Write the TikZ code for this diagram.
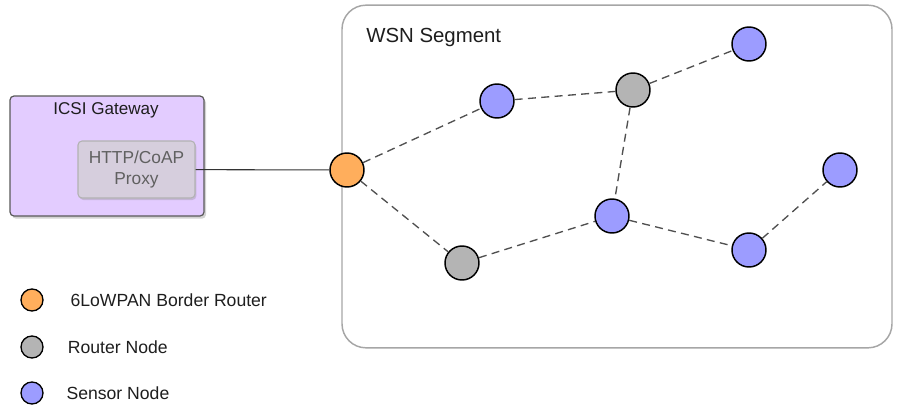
\documentclass[tikz,border=0pt]{standalone}
\usepackage{fontspec}
\setmainfont{Liberation Sans}
\usepackage{tikz}
\usetikzlibrary{positioning,shadows}
\definecolor{borderorange}{HTML}{FFAE5C}
\definecolor{routergray}{HTML}{B4B4B4}
\definecolor{sensorblue}{HTML}{9C9CFF}
\definecolor{gatewayfill}{HTML}{E3CCFF}
\definecolor{proxyfill}{HTML}{D6CEDD}
\definecolor{linkgray}{HTML}{505050}
\definecolor{darktext}{HTML}{1E1E1E}

\begin{document}
\begin{tikzpicture}[
    x=0.75pt, y=-0.75pt,
    mote/.style={
        circle,
        draw=black,
        line width=1.1pt,
        minimum size=25.5pt,
        inner sep=0pt
    },
    bordermote/.style={mote, fill=borderorange},
    routermote/.style={mote, fill=routergray},
    sensormote/.style={mote, fill=sensorblue},
    legendmote/.style={mote, minimum size=16.5pt, line width=1pt},
    legendtext/.style={inner sep=0pt, text=darktext, font=\fontsize{13.2}{16}\selectfont},
    radiolink/.style={draw=linkgray, line width=1pt, dash pattern=on 6pt off 4pt}
]
    \useasboundingbox (0,0) rectangle (900,418);

    % WSN segment frame
    \node[draw=gray!70, line width=1.1pt, rounded corners=18pt,
          minimum width=412.5pt, minimum height=257pt] (wsn) at (617,176.5) {};
    \node[anchor=west, inner sep=0pt, text=darktext,
          font=\fontsize{15.3}{18}\selectfont] (wsnlabel) at (366,37) {WSN Segment};

    % gateway
    \node[draw=gray!70!black, line width=0.9pt, fill=gatewayfill, rounded corners=3pt,
          minimum width=145.5pt, minimum height=90pt,
          drop shadow={shadow xshift=1.5pt, shadow yshift=-2pt, opacity=0.35}] (gateway) at (107,156) {};
    \node[inner sep=0pt, text=darktext, font=\fontsize{12.8}{15}\selectfont] (gwlabel) at (106,110) {ICSI Gateway};
    \node[draw=gray!60, line width=0.8pt, fill=proxyfill, rounded corners=3pt,
          minimum width=87.75pt, minimum height=42.75pt, align=center,
          text=gray!75!black, font=\fontsize{13}{15.5}\selectfont,
          drop shadow={shadow xshift=1pt, shadow yshift=-1.5pt, opacity=0.3}] (proxy) at (136.5,169.5) {HTTP/CoAP\\Proxy};

    % motes
    \node[bordermote] (br) at (347,170) {};
    \node[sensormote] (s1) at (497,101) {};
    \node[routermote] (r1) at (633,90) {};
    \node[sensormote] (s2) at (749,44) {};
    \node[sensormote] (s3) at (612,216) {};
    \node[routermote] (r2) at (462,263) {};
    \node[sensormote] (s4) at (749,250) {};
    \node[sensormote] (s5) at (840,170) {};

    % links
    \draw[black!80, line width=0.8pt] (proxy) -- (br);
    \draw[radiolink] (br) -- (s1);
    \draw[radiolink] (s1) -- (r1);
    \draw[radiolink] (r1) -- (s2);
    \draw[radiolink] (r1) -- (s3);
    \draw[radiolink] (br) -- (r2);
    \draw[radiolink] (r2) -- (s3);
    \draw[radiolink] (s3) -- (s4);
    \draw[radiolink] (s4) -- (s5);

    % legend
    \node[legendmote, fill=borderorange] (lborder) at (32,300) {};
    \node[legendmote, fill=routergray] (lrouter) at (32,347) {};
    \node[legendmote, fill=sensorblue] (lsensor) at (32,393) {};
    \node[legendtext, right=20pt of lborder] (tborder) {6LoWPAN Border Router};
    \node[legendtext, right=18pt of lrouter] (trouter) {Router Node};
    \node[legendtext, right=17pt of lsensor] (tsensor) {Sensor Node};
\end{tikzpicture}
\end{document}
